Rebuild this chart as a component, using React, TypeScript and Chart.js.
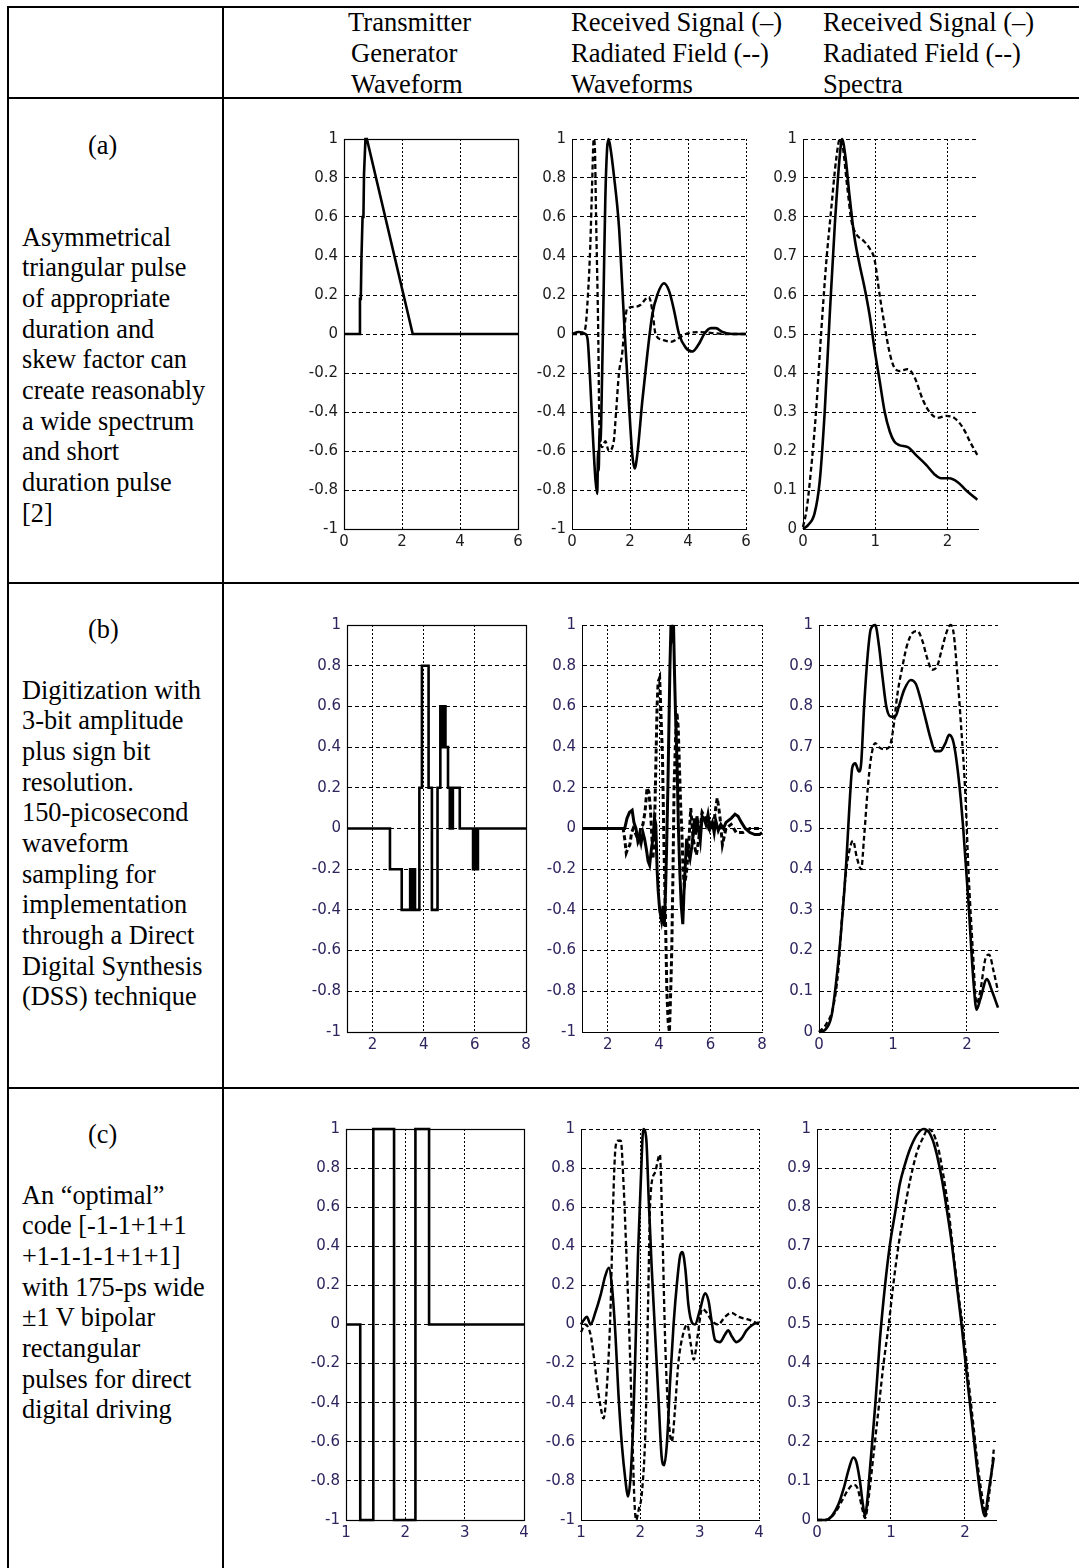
import React, { useEffect, useRef } from 'react';
import { Chart, registerables } from 'chart.js';
Chart.register(...registerables);

// ---------- tick labels ----------
const yTicksWave = [-1, -0.8, -0.6, -0.4, -0.2, 0, 0.2, 0.4, 0.6, 0.8, 1];
const yTicksSpec = [0, 0.1, 0.2, 0.3, 0.4, 0.5, 0.6, 0.7, 0.8, 0.9, 1];
const xTicksA = [0, 2, 4, 6];
const xTicksB = [2, 4, 6, 8];
const xTicksC = [1, 2, 3, 4];
const xTicksSpec = [0, 1, 2];

// ---------- row (a) ----------
const a1X = [0, 0.53, 0.55, 0.58, 0.6, 0.62, 0.64, 0.67, 0.69, 0.72, 0.74, 0.79, 2.37, 6];
const a1Y = [0, 0, 0.18, 0.18, 0.38, 0.38, 0.6, 0.6, 0.82, 0.82, 1, 1, 0, 0];

const a2RecX = [0, 0.23, 0.46, 0.54, 0.63, 0.73, 0.81, 0.87, 0.9, 0.92, 0.95, 0.98, 1.04, 1.1, 1.15, 1.21, 1.26, 1.33, 1.44, 1.62, 1.73, 1.82, 1.96, 2.08, 2.16, 2.25, 2.42, 2.6, 2.77, 2.94, 3.17, 3.35, 3.52, 3.69, 3.92, 4.15, 4.38, 4.56, 4.79, 4.96, 5.19, 5.54, 6];
const a2RecY = [0, 0.01, 0, -0.03, -0.25, -0.55, -0.75, -0.82, -0.6, -0.7, -0.5, -0.55, -0.2, 0.3, 0.7, 0.95, 1.0, 0.95, 0.82, 0.55, 0.25, 0, -0.35, -0.62, -0.69, -0.62, -0.35, -0.1, 0.1, 0.2, 0.26, 0.22, 0.12, 0, -0.07, -0.09, -0.05, 0, 0.03, 0.03, 0.01, 0, 0];
const a2RadX = [0, 0.35, 0.46, 0.55, 0.63, 0.69, 0.75, 0.79, 0.83, 0.9, 0.95, 1.04, 1.15, 1.27, 1.44, 1.52, 1.62, 1.73, 1.82, 1.9, 2.19, 2.37, 2.54, 2.65, 2.77, 2.88, 3.12, 3.4, 3.69, 3.92, 4.38, 5.3, 6];
const a2RadY = [0, 0, 0.03, 0.2, 0.45, 0.75, 1.0, 0.95, 0.6, 0.05, -0.5, -0.58, -0.55, -0.6, -0.55, -0.4, -0.2, -0.1, 0.05, 0.13, 0.14, 0.15, 0.18, 0.19, 0.12, 0, -0.03, -0.04, -0.02, 0, 0.01, 0, 0];

const a3RecX = [0, 0.07, 0.16, 0.23, 0.3, 0.37, 0.44, 0.51, 0.54, 0.59, 0.64, 0.71, 0.78, 0.85, 0.92, 0.99, 1.06, 1.13, 1.2, 1.26, 1.33, 1.45, 1.56, 1.7, 1.82, 1.91, 2.02, 2.14, 2.25, 2.41];
const a3RecY = [0, 0.01, 0.04, 0.12, 0.3, 0.55, 0.78, 0.96, 1.0, 0.95, 0.86, 0.75, 0.68, 0.62, 0.55, 0.46, 0.38, 0.3, 0.25, 0.225, 0.215, 0.21, 0.19, 0.165, 0.14, 0.13, 0.13, 0.12, 0.1, 0.075];
const a3RadX = [0, 0.05, 0.11, 0.18, 0.25, 0.32, 0.39, 0.46, 0.51, 0.55, 0.61, 0.67, 0.74, 0.83, 0.92, 0.99, 1.06, 1.13, 1.2, 1.26, 1.33, 1.45, 1.54, 1.66, 1.75, 1.86, 1.98, 2.09, 2.21, 2.32, 2.41];
const a3RadY = [0.005, 0.05, 0.15, 0.3, 0.5, 0.68, 0.82, 0.95, 1.0, 0.98, 0.88, 0.79, 0.755, 0.74, 0.72, 0.69, 0.6, 0.52, 0.45, 0.415, 0.405, 0.41, 0.39, 0.33, 0.3, 0.285, 0.29, 0.285, 0.26, 0.22, 0.19];

// ---------- row (b) ----------
const b1T = [1, 2.68, 3.14, 3.47, 3.51, 3.55, 3.59, 3.63, 3.66, 3.83, 3.93, 4.19, 4.32, 4.54, 4.65, 4.69, 4.73, 4.77, 4.81, 4.85, 4.95, 5.02, 5.06, 5.10, 5.14, 5.41, 5.93, 5.97, 6.01, 6.05, 6.09, 6.12, 8];
const b1V = [0, -0.2, -0.4, -0.2, -0.4, -0.2, -0.4, -0.2, -0.4, 0.2, 0.8, 0.2, -0.4, 0.2, 0.6, 0.4, 0.6, 0.4, 0.6, 0.4, 0.2, 0, 0.2, 0, 0.2, 0, -0.2, 0, -0.2, 0, -0.2, 0, 0];

const b2RecX = [1, 2.4, 2.66, 2.75, 2.85, 2.95, 3.02, 3.1, 3.17, 3.24, 3.3, 3.37, 3.43, 3.5, 3.57, 3.63, 3.7, 3.76, 3.82, 3.87, 3.92, 3.96, 4.02, 4.09, 4.15, 4.2, 4.25, 4.29, 4.34, 4.38, 4.42, 4.46, 4.52, 4.56, 4.6, 4.64, 4.7, 4.75, 4.8, 4.86, 4.92, 4.97, 5.01, 5.07, 5.14, 5.2, 5.28, 5.33, 5.37, 5.42, 5.47, 5.53, 5.6, 5.67, 5.74, 5.82, 5.9, 5.98, 6.07, 6.14, 6.2, 6.3, 6.4, 6.5, 6.6, 6.7, 6.8, 6.95, 7.07, 7.2, 7.35, 7.53, 7.72, 7.9, 8];
const b2RecY = [0, 0, 0.0, 0.05, 0.08, 0.09, 0.03, 0.0, -0.06, -0.03, -0.07, -0.02, -0.05, -0.1, -0.16, -0.18, -0.1, -0.05, 0.05, 0.02, -0.2, -0.3, -0.4, -0.45, -0.38, -0.48, -0.3, -0.1, 0.2, 0.5, 0.8, 1.0, 0.95, 1.0, 0.75, 0.55, 0.3, 0.0, -0.2, -0.38, -0.47, -0.3, -0.2, -0.05, -0.12, -0.15, -0.08, -0.02, 0.05, -0.03, 0.06, 0.0, -0.06, 0.06, 0.05, 0.02, 0.07, 0.0, 0.03, -0.02, 0.04, -0.01, 0.02, 0.0, 0.03, 0.04, 0.05, 0.07, 0.06, 0.03, 0.0, -0.02, -0.03, -0.03, -0.02];
const b2RadX = [1, 2.6, 2.66, 2.72, 2.78, 2.86, 2.93, 2.99, 3.1, 3.2, 3.28, 3.37, 3.45, 3.53, 3.6, 3.66, 3.72, 3.76, 3.82, 3.87, 3.92, 3.96, 4.02, 4.06, 4.13, 4.19, 4.24, 4.3, 4.35, 4.4, 4.45, 4.49, 4.54, 4.58, 4.64, 4.69, 4.74, 4.79, 4.84, 4.88, 4.93, 4.98, 5.06, 5.14, 5.23, 5.32, 5.45, 5.54, 5.67, 5.8, 5.93, 6.05, 6.13, 6.2, 6.26, 6.32, 6.37, 6.46, 6.6, 6.8, 7.0, 7.26, 7.53, 8];
const b2RadY = [0, 0, -0.05, -0.12, -0.1, -0.08, -0.02, 0.0, -0.03, -0.06, 0.0, 0.02, 0.08, 0.2, 0.18, 0.1, -0.05, -0.15, 0.0, 0.3, 0.6, 0.72, 0.74, 0.6, 0.35, -0.1, -0.4, -0.8, -0.95, -1.0, -0.8, -0.6, -0.2, 0.2, 0.45, 0.57, 0.5, 0.3, 0.1, 0.0, -0.2, -0.28, -0.22, -0.1, 0.1, -0.05, -0.13, -0.05, 0.08, 0.05, 0.0, 0.02, 0.03, 0.1, 0.15, 0.1, 0.05, -0.08, 0.0, 0.02, -0.02, -0.02, 0.0, 0.0];

const b3RecX = [0, 0.08, 0.17, 0.23, 0.3, 0.37, 0.41, 0.45, 0.49, 0.54, 0.57, 0.61, 0.66, 0.7, 0.76, 0.81, 0.86, 0.91, 0.97, 1.03, 1.08, 1.15, 1.24, 1.31, 1.37, 1.44, 1.51, 1.57, 1.64, 1.71, 1.76, 1.82, 1.89, 1.95, 2.02, 2.09, 2.13, 2.18, 2.27, 2.34, 2.42];
const b3RecY = [0, 0.005, 0.04, 0.12, 0.25, 0.42, 0.55, 0.65, 0.66, 0.64, 0.66, 0.8, 0.93, 0.99, 1.0, 0.95, 0.87, 0.8, 0.775, 0.775, 0.8, 0.84, 0.865, 0.855, 0.82, 0.77, 0.72, 0.69, 0.69, 0.71, 0.73, 0.71, 0.62, 0.5, 0.32, 0.12, 0.055, 0.08, 0.13, 0.1, 0.06];
const b3RadX = [0, 0.1, 0.19, 0.26, 0.31, 0.37, 0.43, 0.46, 0.51, 0.57, 0.61, 0.66, 0.7, 0.76, 0.81, 0.88, 0.95, 1.0, 1.06, 1.13, 1.19, 1.26, 1.33, 1.4, 1.46, 1.53, 1.6, 1.66, 1.73, 1.78, 1.82, 1.87, 1.91, 1.98, 2.02, 2.08, 2.13, 2.18, 2.25, 2.3, 2.36, 2.42];
const b3RadY = [0, 0.02, 0.06, 0.15, 0.28, 0.4, 0.46, 0.47, 0.43, 0.4, 0.48, 0.6, 0.67, 0.71, 0.7, 0.695, 0.7, 0.74, 0.83, 0.9, 0.95, 0.98, 0.985, 0.96, 0.92, 0.89, 0.9, 0.94, 0.985, 1.0, 0.98, 0.88, 0.78, 0.58, 0.4, 0.2, 0.07, 0.1, 0.18, 0.19, 0.15, 0.1];

// ---------- row (c) ----------
const c1T = [1, 1.24, 1.46, 1.81, 2.17, 2.4, 4];
const c1V = [0, -1, 1, -1, 1, 0, 0];

const c2RecX = [1.0, 1.04, 1.1, 1.16, 1.24, 1.33, 1.41, 1.47, 1.52, 1.58, 1.63, 1.69, 1.75, 1.79, 1.83, 1.88, 1.92, 1.96, 2.01, 2.05, 2.1, 2.14, 2.19, 2.25, 2.31, 2.36, 2.4, 2.45, 2.5, 2.56, 2.62, 2.67, 2.71, 2.76, 2.81, 2.87, 2.92, 3.01, 3.09, 3.15, 3.2, 3.26, 3.34, 3.43, 3.48, 3.54, 3.62, 3.71, 3.79, 3.9, 4.0];
const c2RecY = [0.0, 0.02, 0.04, 0.0, 0.06, 0.15, 0.25, 0.29, 0.2, -0.05, -0.35, -0.62, -0.8, -0.88, -0.8, -0.5, -0.1, 0.35, 0.75, 1.0, 0.95, 0.65, 0.3, -0.05, -0.4, -0.68, -0.72, -0.6, -0.3, 0.0, 0.22, 0.35, 0.37, 0.28, 0.1, 0.01, 0.0, 0.08, 0.16, 0.12, 0.02, -0.08, -0.09, -0.05, -0.03, -0.06, -0.09, -0.07, -0.03, 0.0, 0.01];
const c2RadX = [1.0, 1.07, 1.16, 1.21, 1.27, 1.33, 1.38, 1.44, 1.5, 1.54, 1.58, 1.62, 1.67, 1.72, 1.76, 1.82, 1.86, 1.9, 1.93, 1.97, 2.03, 2.09, 2.13, 2.17, 2.25, 2.33, 2.37, 2.42, 2.47, 2.53, 2.58, 2.64, 2.72, 2.79, 2.85, 2.9, 2.97, 3.04, 3.12, 3.2, 3.31, 3.43, 3.54, 3.65, 3.76, 3.87, 4.0];
const c2RadY = [-0.04, 0.0, -0.05, -0.15, -0.3, -0.42, -0.48, -0.3, 0.1, 0.6, 0.9, 0.94, 0.94, 0.7, 0.4, -0.1, -0.5, -0.9, -1.0, -0.95, -0.85, -0.5, 0.1, 0.65, 0.78, 0.87, 0.5, -0.1, -0.45, -0.6, -0.45, -0.2, -0.05, 0.0, -0.1, -0.18, -0.05, 0.08, 0.06, 0.02, 0.0, 0.04, 0.06, 0.04, 0.03, 0.02, 0.0];

const c3RecX = [0, 0.11, 0.2, 0.29, 0.36, 0.43, 0.49, 0.53, 0.58, 0.62, 0.65, 0.68, 0.72, 0.79, 0.85, 0.92, 0.99, 1.06, 1.12, 1.19, 1.26, 1.35, 1.44, 1.52, 1.6, 1.69, 1.75, 1.82, 1.89, 1.96, 2.02, 2.09, 2.16, 2.22, 2.27, 2.31, 2.39];
const c3RecY = [0, 0, 0.01, 0.04, 0.08, 0.13, 0.16, 0.15, 0.1, 0.04, 0.01, 0.05, 0.14, 0.3, 0.46, 0.6, 0.71, 0.79, 0.86, 0.91, 0.95, 0.985, 1.0, 0.99, 0.95, 0.87, 0.8, 0.71, 0.6, 0.49, 0.38, 0.26, 0.14, 0.05, 0.01, 0.06, 0.16];
const c3RadX = [0, 0.13, 0.25, 0.34, 0.43, 0.49, 0.55, 0.61, 0.65, 0.7, 0.76, 0.83, 0.9, 0.97, 1.03, 1.1, 1.17, 1.26, 1.35, 1.44, 1.5, 1.57, 1.64, 1.71, 1.78, 1.84, 1.91, 1.98, 2.04, 2.11, 2.18, 2.25, 2.28, 2.33, 2.39];
const c3RadY = [0, 0, 0.02, 0.05, 0.08, 0.09, 0.08, 0.03, 0.005, 0.06, 0.16, 0.28, 0.4, 0.5, 0.6, 0.7, 0.78, 0.87, 0.94, 0.98, 1.0, 0.99, 0.95, 0.88, 0.79, 0.69, 0.58, 0.48, 0.37, 0.25, 0.13, 0.04, 0.01, 0.07, 0.18];

// ---------- texts ----------
const headerCols = [
  { left: [348, 351, 351], lines: ['Transmitter', 'Generator', 'Waveform'] },
  { left: [571, 571, 571], lines: ['Received Signal (–)', 'Radiated Field (--)', 'Waveforms'] },
  { left: [823, 823, 823], lines: ['Received Signal (–)', 'Radiated Field (--)', 'Spectra'] },
];
const rowLabels = ['(a)', '(b)', '(c)'];
const rowText = [
  ['Asymmetrical', 'triangular pulse', 'of appropriate', 'duration and', 'skew factor can', 'create reasonably', 'a wide spectrum', 'and short', 'duration pulse', '[2]'],
  ['Digitization with', '3-bit amplitude', 'plus sign bit', 'resolution.', '150-picosecond', 'waveform', 'sampling for', 'implementation', 'through a Direct', 'Digital Synthesis', '(DSS) technique'],
  ['An “optimal”', 'code [-1-1+1+1', '+1-1-1-1+1+1]', 'with 175-ps wide', '±1 V bipolar', 'rectangular', 'pulses for direct', 'digital driving'],
];

// ---------- layout ----------
const LABEL_Y = [146, 630, 1135];
const TEXT_Y = [238, 691, 1196];
const LINE_H = 30.67;

type Series = { x: number[]; y: number[]; dashed?: boolean; stepped?: boolean; smooth?: boolean; w?: number };
type Cfg = {
  rect: [number, number, number, number];
  xMin: number; xMax: number; xTicks: number[];
  yMin: number; yMax: number; yTicks: number[];
  series: Series[]; box: boolean; labelColor: string;
};

const COL_A = '#1c1c1c';
const COL_BC = '#30245e';

const charts: Cfg[] = [
  { rect: [344, 136, 518, 529], xMin: 0, xMax: 6, xTicks: xTicksA, yMin: -1, yMax: 1, yTicks: yTicksWave, box: true, labelColor: COL_A,
    series: [{ x: a1X, y: a1Y }] },
  { rect: [572, 136, 746, 529], xMin: 0, xMax: 6, xTicks: xTicksA, yMin: -1, yMax: 1, yTicks: yTicksWave, box: false, labelColor: COL_A,
    series: [{ x: a2RadX, y: a2RadY, dashed: true, smooth: true }, { x: a2RecX, y: a2RecY, smooth: true }] },
  { rect: [803, 136, 978, 529], xMin: 0, xMax: 2.42, xTicks: xTicksSpec, yMin: 0, yMax: 1, yTicks: yTicksSpec, box: false, labelColor: COL_A,
    series: [{ x: a3RadX, y: a3RadY, dashed: true, smooth: true }, { x: a3RecX, y: a3RecY, smooth: true }] },
  { rect: [347, 622, 526, 1032], xMin: 1, xMax: 8, xTicks: xTicksB, yMin: -1, yMax: 1, yTicks: yTicksWave, box: true, labelColor: COL_BC,
    series: [{ x: b1T, y: b1V, stepped: true }] },
  { rect: [582, 622, 762, 1032], xMin: 1, xMax: 8, xTicks: xTicksB, yMin: -1, yMax: 1, yTicks: yTicksWave, box: false, labelColor: COL_BC,
    series: [{ x: b2RadX, y: b2RadY, dashed: true, w: 3 }, { x: b2RecX, y: b2RecY, w: 3 }] },
  { rect: [819, 622, 998, 1032], xMin: 0, xMax: 2.42, xTicks: xTicksSpec, yMin: 0, yMax: 1, yTicks: yTicksSpec, box: false, labelColor: COL_BC,
    series: [{ x: b3RadX, y: b3RadY, dashed: true, smooth: true }, { x: b3RecX, y: b3RecY, smooth: true }] },
  { rect: [346, 1126, 524, 1520], xMin: 1, xMax: 4, xTicks: xTicksC, yMin: -1, yMax: 1, yTicks: yTicksWave, box: true, labelColor: COL_BC,
    series: [{ x: c1T, y: c1V, stepped: true }] },
  { rect: [581, 1126, 759, 1520], xMin: 1, xMax: 4, xTicks: xTicksC, yMin: -1, yMax: 1, yTicks: yTicksWave, box: false, labelColor: COL_BC,
    series: [{ x: c2RadX, y: c2RadY, dashed: true, smooth: true }, { x: c2RecX, y: c2RecY, smooth: true }] },
  { rect: [817, 1126, 996, 1520], xMin: 0, xMax: 2.42, xTicks: xTicksSpec, yMin: 0, yMax: 1, yTicks: yTicksSpec, box: false, labelColor: COL_BC,
    series: [{ x: c3RadX, y: c3RadY, dashed: true, smooth: true }, { x: c3RecX, y: c3RecY, smooth: true }] },
];

const YW = 60, XH = 28, PT = 12, PR = 12;
const fmt = (v: number) => String(Math.round(v * 10) / 10);

function MiniChart({ cfg }: { cfg: Cfg }) {
  const ref = useRef<HTMLCanvasElement | null>(null);
  const [l, t, r, b] = cfg.rect;
  const w = r - l + YW + PR;
  const h = b - t + PT + XH;
  useEffect(() => {
    const frame = {
      id: 'frame',
      afterDraw(chart: any) {
        if (!cfg.box) return;
        const ca = chart.chartArea;
        const ctx = chart.ctx;
        ctx.save();
        ctx.strokeStyle = '#000';
        ctx.lineWidth = 1.2;
        ctx.setLineDash([]);
        ctx.strokeRect(Math.round(ca.left) + 0.5, Math.round(ca.top) + 0.5, Math.round(ca.right - ca.left), Math.round(ca.bottom - ca.top));
        ctx.restore();
      },
    };
    const tickFont = { family: 'DejaVu Sans', size: 15 };
    const chart = new Chart(ref.current as HTMLCanvasElement, {
      type: 'line',
      data: {
        datasets: cfg.series.map((s) => ({
          data: s.x.map((xv, i) => ({ x: xv, y: s.y[i] })),
          borderColor: '#000',
          borderWidth: s.w ?? (s.dashed ? 2.3 : 2.6),
          borderDash: s.dashed ? [5, 3] : [],
          pointRadius: 0,
          fill: false,
          stepped: s.stepped ? true : false,
          cubicInterpolationMode: s.smooth ? 'monotone' : 'default',
          tension: 0,
          clip: 4,
        })) as any,
      },
      options: {
        animation: false,
        responsive: false,
        events: [],
        layout: { padding: { left: 0, top: PT, right: PR, bottom: 0 } },
        plugins: { legend: { display: false }, tooltip: { enabled: false } },
        scales: {
          x: {
            type: 'linear',
            min: cfg.xMin,
            max: cfg.xMax,
            afterBuildTicks: (s: any) => { s.ticks = cfg.xTicks.map((v) => ({ value: v })); },
            afterFit: (s: any) => { s.height = XH; },
            grid: { color: '#000', lineWidth: 1, drawTicks: false },
            border: { display: true, color: '#000', width: 1, dash: [2, 2] },
            ticks: { color: cfg.labelColor, font: tickFont, padding: 4, maxRotation: 0, autoSkip: false, callback: (v: any) => fmt(Number(v)) },
          },
          y: {
            type: 'linear',
            min: cfg.yMin,
            max: cfg.yMax,
            afterBuildTicks: (s: any) => { s.ticks = cfg.yTicks.map((v) => ({ value: v })); },
            afterFit: (s: any) => { s.width = YW; },
            grid: { color: '#000', lineWidth: 1, drawTicks: false },
            border: { display: true, color: '#000', width: 1, dash: [4, 3] },
            ticks: { color: cfg.labelColor, font: tickFont, padding: 6, autoSkip: false, callback: (v: any) => fmt(Number(v)) },
          },
        },
      } as any,
      plugins: [frame],
    });
    return () => chart.destroy();
  }, []);
  return (
    <canvas
      ref={ref}
      width={w}
      height={h}
      style={{ position: 'absolute', left: l - YW, top: t - PT, width: w, height: h }}
    />
  );
}

const serif = '"Liberation Serif", "Times New Roman", serif';

function Line({ text, left, cy, size }: { text: string; left: number; cy: number; size: number }) {
  return (
    <div
      style={{
        position: 'absolute', left, top: cy - LINE_H / 2, height: LINE_H, lineHeight: `${LINE_H}px`,
        fontFamily: serif, fontSize: size, color: '#000', whiteSpace: 'nowrap',
      }}
    >
      {text}
    </div>
  );
}

export default function App() {
  const bar = (left: number, top: number, width: number, height: number, key: string) => (
    <div key={key} style={{ position: 'absolute', left, top, width, height, background: '#000' }} />
  );
  return (
    <div style={{ position: 'absolute', left: 0, top: 0, width: 1079, height: 1568, background: '#fff', overflow: 'hidden' }}>
      {bar(7, 6, 1072, 2, 'top')}
      {bar(7, 6, 2, 1562, 'left')}
      {bar(222, 6, 2, 1562, 'sep')}
      {bar(7, 97, 1072, 2, 'h1')}
      {bar(7, 582, 1072, 2, 'h2')}
      {bar(7, 1087, 1072, 2, 'h3')}
      {headerCols.map((col, ci) =>
        col.lines.map((txt, li) => (
          <Line key={`h${ci}-${li}`} text={txt} left={col.left[li]} cy={22 + li * 31} size={26.6} />
        ))
      )}
      {rowLabels.map((lab, ri) => (
        <Line key={`l${ri}`} text={lab} left={88} cy={LABEL_Y[ri]} size={26.3} />
      ))}
      {rowText.map((lines, ri) =>
        lines.map((txt, li) => (
          <Line key={`t${ri}-${li}`} text={txt} left={22} cy={TEXT_Y[ri] + li * LINE_H} size={26.3} />
        ))
      )}
      {charts.map((c, i) => (
        <MiniChart key={i} cfg={c} />
      ))}
    </div>
  );
}
